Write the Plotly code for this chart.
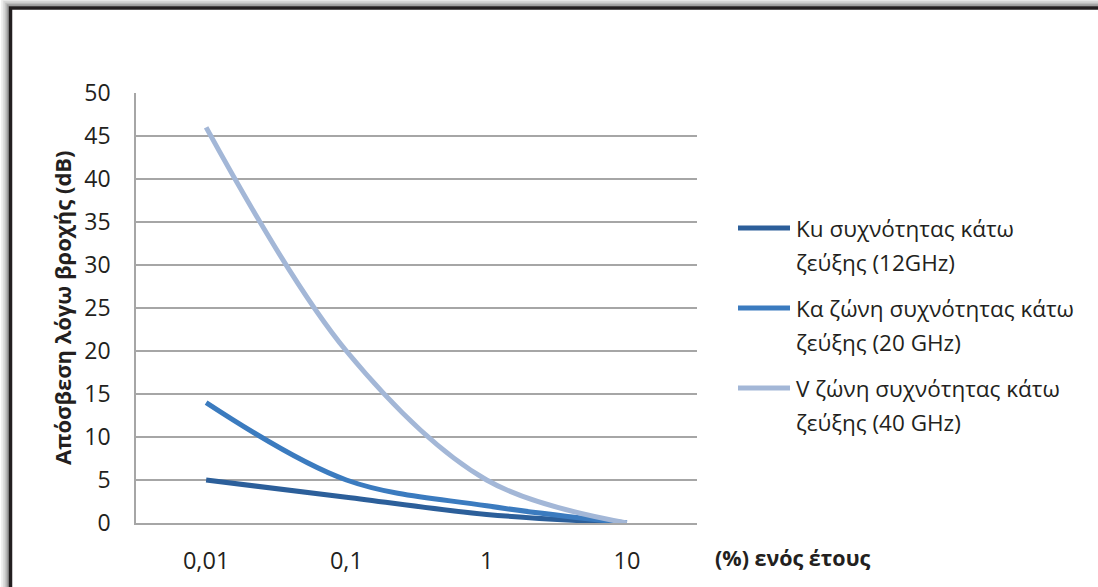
import plotly.graph_objects as go

# Rain attenuation vs. percentage of the year exceeded
categories = ["0,01", "0,1", "1", "10"]
ku_values = [5, 3, 1, 0]
ka_values = [14, 5, 2, 0]
v_values = [46, 20, 5, 0]

series_names = [
    "Ku συχνότητας κάτω<br>ζεύξης (12GHz)",
    "Κα ζώνη συχνότητας κάτω<br>ζεύξης (20 GHz)",
    "V ζώνη συχνότητας κάτω<br>ζεύξης (40 GHz)",
]
series_values = [ku_values, ka_values, v_values]
series_colors = ["#2c5f9a", "#3b7bbf", "#a3b7d7"]

y_ticks = [0, 5, 10, 15, 20, 25, 30, 35, 40, 45, 50]
y_title = "Απόσβεση λόγω βροχής (dB)"
x_title = "(%) ενός έτους"

W, H = 1098, 587
PL, PR, PT, PB = 136, 697, 93, 523  # plot area in pixels
FONT = "Open Sans"
TXT = "#231f20"


def px(x):
    return (x - PL) / (PR - PL)


def py(y):
    return (PB - y) / (PB - PT)


fig = go.Figure()
for name, vals, col in zip(series_names, series_values, series_colors):
    fig.add_trace(go.Scatter(
        x=categories, y=vals, name=name, mode="lines",
        line=dict(color=col, width=5, shape="spline", smoothing=1.0),
        showlegend=False,
    ))

shapes = []
# outer frame with soft shadow
for off, col in [(8, "#ececec"), (6, "#d6d6d6"), (4, "#bdbdbd"), (2.5, "#9e9e9e")]:
    shapes.append(dict(type="rect", xref="paper", yref="paper",
                       x0=px(10.5 - off), x1=px(W + 30), y0=py(8 - off), y1=py(H + 30),
                       line=dict(color=col, width=2.5), layer="below"))
shapes.append(dict(type="rect", xref="paper", yref="paper",
                   x0=px(10.5), x1=px(W + 30), y0=py(8), y1=py(H + 30),
                   line=dict(color="#231f20", width=3.5), layer="below"))

annotations = []
# legend drawn beside the plot
leg_y = [228, 308, 388]
for name, col, yy in zip(series_names, series_colors, leg_y):
    shapes.append(dict(type="line", xref="paper", yref="paper",
                       x0=px(738), x1=px(790), y0=py(yy), y1=py(yy),
                       line=dict(color=col, width=5)))
    for i, line in enumerate(name.split("<br>")):
        annotations.append(dict(xref="paper", yref="paper", x=px(794), y=py(yy + 34 * i),
                                xanchor="left", yanchor="middle", showarrow=False,
                                text=line, font=dict(family=FONT, size=22.5, color=TXT)))

annotations.append(dict(xref="paper", yref="paper", x=px(62), y=0.5, textangle=-90,
                        xanchor="center", yanchor="middle", showarrow=False,
                        text="<b>" + y_title + "</b>",
                        font=dict(family=FONT, size=22, color=TXT)))
annotations.append(dict(xref="paper", yref="paper", x=px(713), y=py(557),
                        xanchor="left", yanchor="middle", showarrow=False,
                        text="<b>" + x_title + "</b>",
                        font=dict(family=FONT, size=21.5, color=TXT)))

fig.update_layout(
    width=W, height=H,
    margin=dict(l=PL, r=W - PR, t=PT, b=H - PB),
    paper_bgcolor="white", plot_bgcolor="white",
    shapes=shapes, annotations=annotations,
    font=dict(family=FONT, size=23, color=TXT),
    xaxis=dict(type="category", categoryorder="array", categoryarray=categories,
               range=[-0.5, 3.5], showgrid=False, showline=True,
               linecolor="#a6a6a6", linewidth=1.5, ticks="",
               ticklabelstandoff=16, tickfont=dict(family=FONT, size=23.5, color=TXT)),
    yaxis=dict(range=[0, 50], tickvals=y_ticks, showgrid=True, gridcolor="#a6a6a6",
               gridwidth=1.5, zeroline=False, showline=True, linecolor="#a6a6a6",
               linewidth=1.5, ticks="", ticklabelstandoff=19,
               tickfont=dict(family=FONT, size=23, color=TXT)),
)

fig.write_html("out.html")
